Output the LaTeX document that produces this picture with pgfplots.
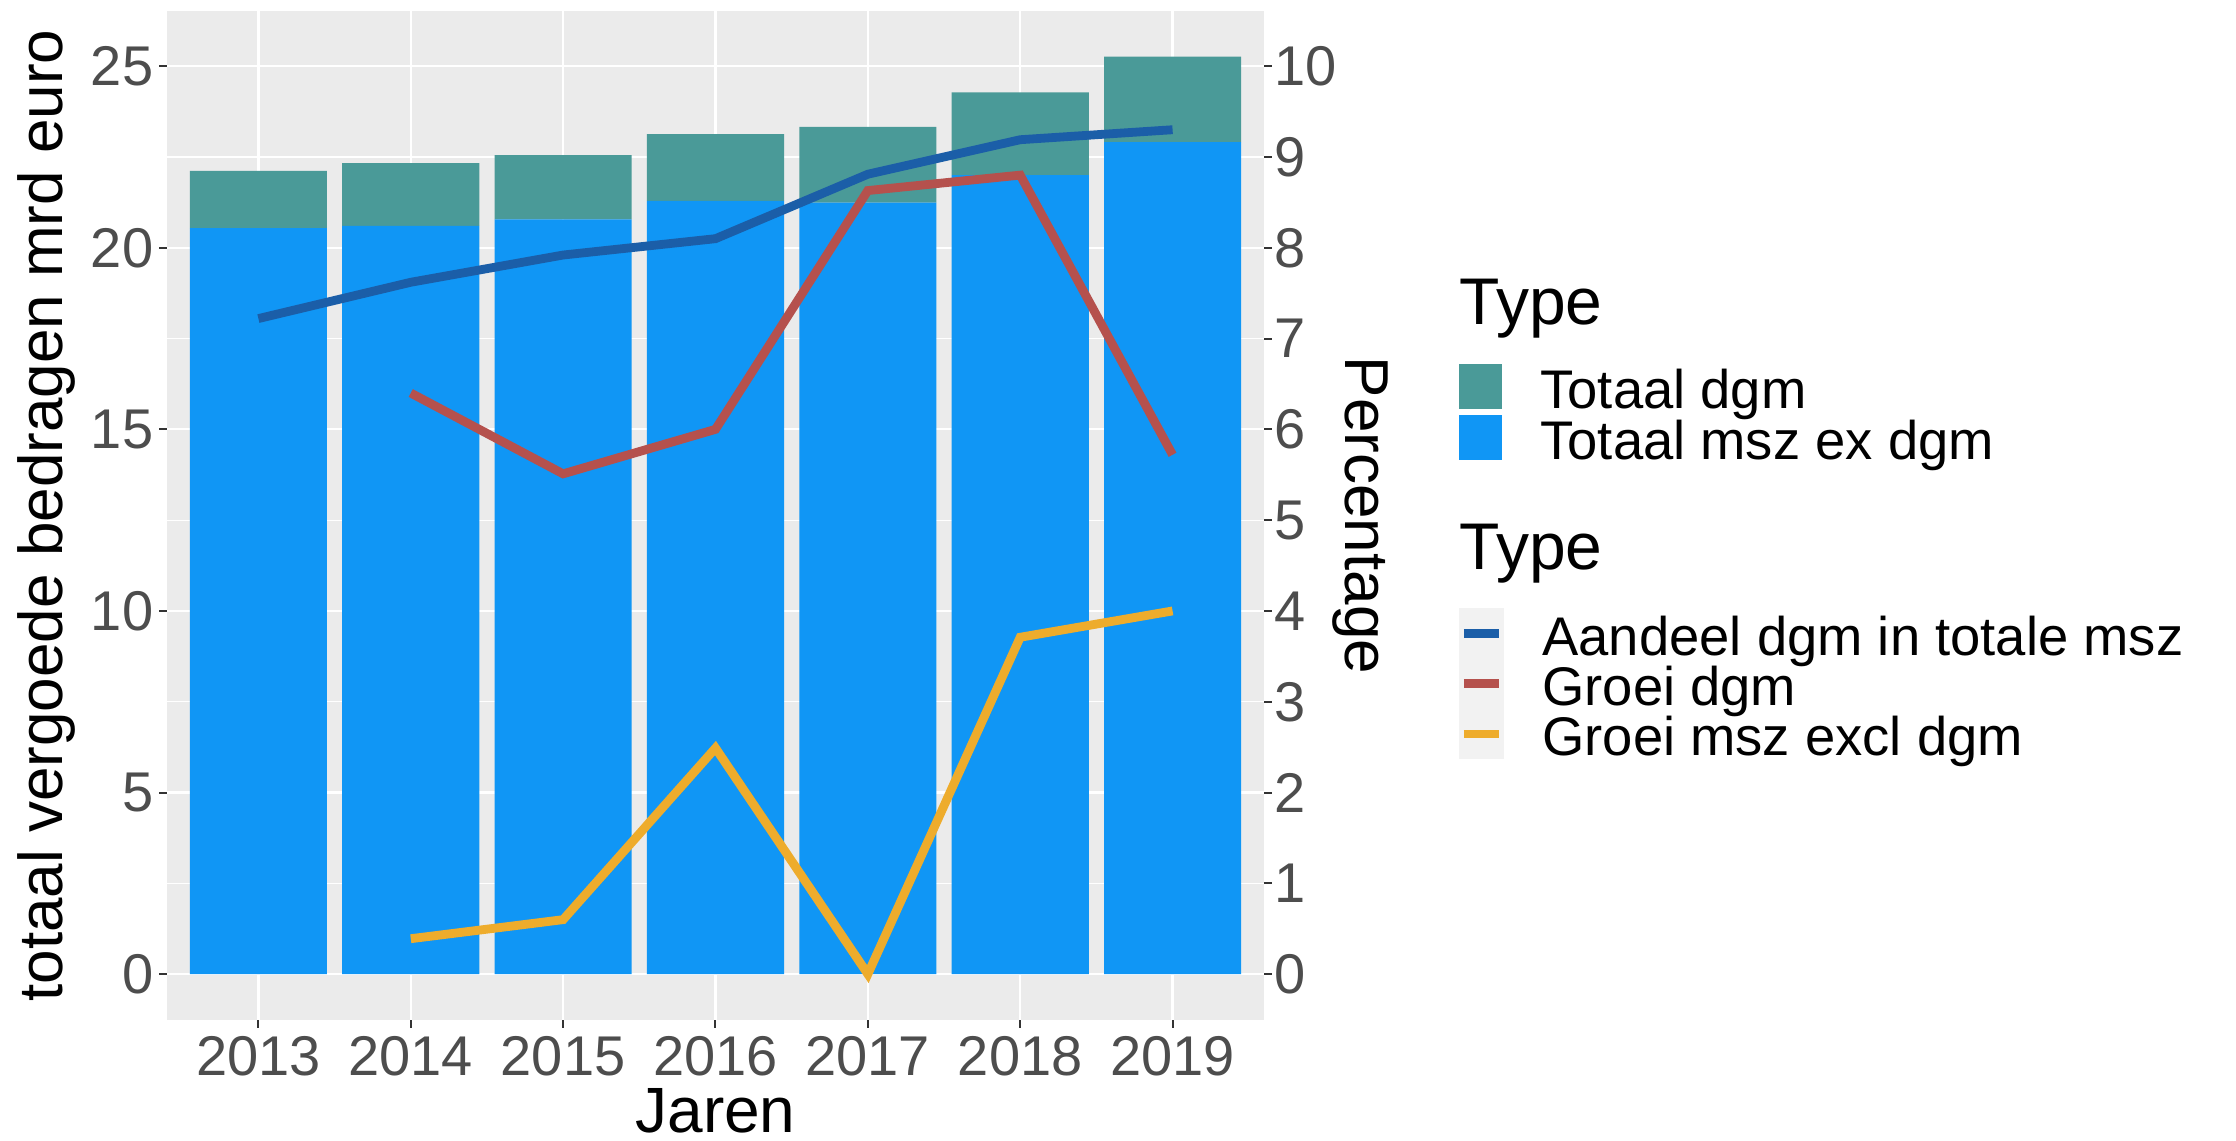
\documentclass[border=0pt]{standalone}
\usepackage{fontspec}
\setmainfont{Liberation Sans}
\usepackage{pgfplots}
\pgfplotsset{compat=1.18}
\definecolor{cteal}{HTML}{4A9A98}
\definecolor{cblue}{HTML}{1096F5}
\definecolor{cnavy}{HTML}{1B5EA8}
\definecolor{cred}{HTML}{B5514D}
\definecolor{cyel}{HTML}{EEAC2C}
\definecolor{panel}{HTML}{EBEBEB}
\definecolor{tickgray}{HTML}{4D4D4D}
\definecolor{tickline}{HTML}{333333}
\definecolor{keybg}{HTML}{F2F2F2}
\pgfplotsset{
  common/.style={
    at={(41.75pt,30.25pt)}, anchor=south west,
    width=274.25pt, height=252.25pt, scale only axis,
    xmin=-0.6, xmax=6.6,
    axis line style={draw=none},
    tick align=outside,
    major tick length=2pt,
    minor tick length=0pt,
    tick style={tickline, line width=0.5pt},
    ticklabel style={font=\fontsize{14}{16}\selectfont, text=tickgray},
    /pgf/number format/assume math mode=true,
    legend cell align=left,
  },
}
\begin{document}
\begin{tikzpicture}
\path[use as bounding box] (0,0) rectangle (559pt,285.25pt);
\begin{axis}[
  common,
  ymin=-1.263, ymax=26.52,
  axis background/.style={fill=panel},
  tick pos=left,
  xtick={0,...,6}, xticklabels={2013,2014,2015,2016,2017,2018,2019},
  ytick={0,5,...,25},
  minor ytick={2.5,7.5,12.5,17.5,22.5},
  grid=both,
  major grid style={white, line width=0.55pt},
  minor grid style={white, line width=0.28pt},
  xticklabel style={anchor=base, inner sep=0pt, yshift=-12pt},
  yticklabel style={anchor=east, inner sep=0pt, xshift=-1.25pt},
  ybar stacked, bar width=0.9,
  xlabel={Jaren},
  ylabel={totaal vergoede bedragen mrd euro},
  every axis x label/.style={at={(rel axis cs:0.5,-0.1115)}, anchor=base, inner sep=0pt, font=\fontsize{16}{18}\selectfont},
  every axis y label/.style={at={(rel axis cs:-0.1103,0.5)}, rotate=90, anchor=center, inner sep=0pt, font=\fontsize{15.5}{17}\selectfont},
  reverse legend,
  legend style={at={(1.17777,0.65253)}, anchor=north west, draw=none, fill=none,
    inner sep=0pt, outer sep=0pt, row sep=0pt, column sep=9.6pt,
    font=\fontsize{13.6}{15}\selectfont,
    nodes={inner sep=0pt, text height=11pt, text depth=0pt}},
]
\addplot[fill=cblue, draw=none, legend image code/.code={
    \path[draw=none, fill=none] (0pt,-6.3pt) rectangle (10.75pt,6.3pt);
    \path[draw=none, fill=cblue] (0pt,-5.65pt) rectangle (10.75pt,5.65pt);}] coordinates {
  (0,20.54) (1,20.60) (2,20.78) (3,21.29) (4,21.24) (5,22.00) (6,22.91)};
\addlegendentry{Totaal msz ex dgm}
\addplot[fill=cteal, draw=none, legend image code/.code={
    \path[draw=none, fill=none] (0pt,-6.3pt) rectangle (10.75pt,6.3pt);
    \path[draw=none, fill=cteal] (0pt,-5.65pt) rectangle (10.75pt,5.65pt);}] coordinates {
  (0,1.58) (1,1.73) (2,1.77) (3,1.84) (4,2.09) (5,2.28) (6,2.35)};
\addlegendentry{Totaal dgm}
\end{axis}
\begin{axis}[
  common,
  ymin=-0.5052, ymax=10.608,
  hide x axis,
  ytick pos=right,
  ytick={0,1,...,10},
  yticklabel style={anchor=west, inner sep=0pt, xshift=0.5pt},
  ylabel={Percentage},
  every axis y label/.style={at={(rel axis cs:1.0875,0.5)}, rotate=-90, anchor=center, inner sep=0pt, font=\fontsize{15.5}{17}\selectfont},
  legend style={at={(1.17777,0.40833)}, anchor=north west, draw=none, fill=none,
    inner sep=0pt, outer sep=0pt, row sep=0pt, column sep=9.6pt,
    font=\fontsize{13.6}{15}\selectfont,
    nodes={inner sep=0pt, text height=11pt, text depth=0pt}},
]
\addplot[cnavy, line width=2.2pt, legend image code/.code={
    \path[draw=none, fill=keybg, line width=0pt] (0pt,-6.3pt) rectangle (11.25pt,6.3pt);
    \path[draw=cnavy, line width=2.2pt, line cap=butt] (1.25pt,0pt) -- (10pt,0pt);}] coordinates {
  (0,7.22) (1,7.62) (2,7.92) (3,8.10) (4,8.81) (5,9.19) (6,9.30)};
\addlegendentry{Aandeel dgm in totale msz}
\addplot[cred, line width=2.2pt, legend image code/.code={
    \path[draw=none, fill=keybg, line width=0pt] (0pt,-6.3pt) rectangle (11.25pt,6.3pt);
    \path[draw=cred, line width=2.2pt, line cap=butt] (1.25pt,0pt) -- (10pt,0pt);}] coordinates {
  (1,6.40) (2,5.51) (3,6.00) (4,8.63) (5,8.80) (6,5.72)};
\addlegendentry{Groei dgm}
\addplot[cyel, line width=2.2pt, legend image code/.code={
    \path[draw=none, fill=keybg, line width=0pt] (0pt,-6.3pt) rectangle (11.25pt,6.3pt);
    \path[draw=cyel, line width=2.2pt, line cap=butt] (1.25pt,0pt) -- (10pt,0pt);}] coordinates {
  (1,0.39) (2,0.60) (3,2.49) (4,0.00) (5,3.71) (6,4.00)};
\addlegendentry{Groei msz excl dgm}
\end{axis}
\node[anchor=base west, inner sep=0pt, font=\fontsize{16.5}{18}\selectfont] at (364.65pt,204.1pt) {Type};
\node[anchor=base west, inner sep=0pt, font=\fontsize{16.5}{18}\selectfont] at (364.65pt,142.75pt) {Type};
\end{tikzpicture}
\end{document}
